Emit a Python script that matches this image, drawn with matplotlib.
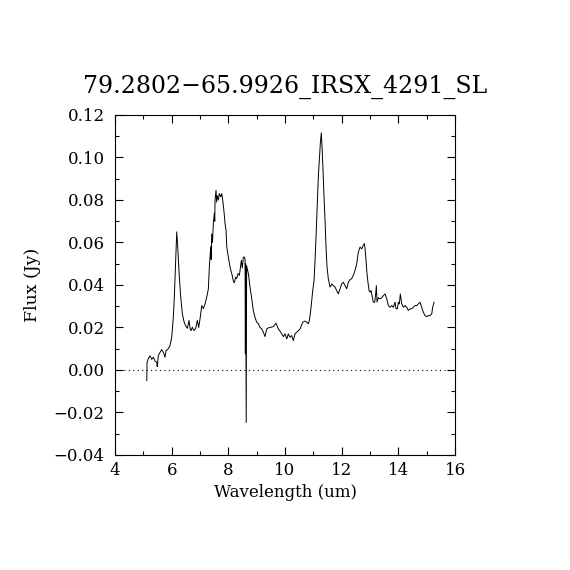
import matplotlib
matplotlib.use("Agg")
import matplotlib.pyplot as plt
from matplotlib.ticker import MultipleLocator

# spectrum (wavelength in um, flux in Jy)
wave = [5.12, 5.13, 5.175, 5.235, 5.295, 5.352, 5.412, 5.472, 5.49, 5.528,
        5.588, 5.648, 5.705, 5.765, 5.80, 5.881, 5.941, 6.001, 6.058, 6.093,
        6.128, 6.178, 6.213, 6.269, 6.319, 6.375, 6.435, 6.495, 6.552, 6.612,
        6.647, 6.682, 6.728, 6.788, 6.848, 6.905, 6.954, 7.00, 7.06, 7.116,
        7.176, 7.236, 7.293, 7.328, 7.378, 7.395, 7.41, 7.44, 7.47, 7.505,
        7.52, 7.53, 7.565, 7.585, 7.61, 7.646, 7.68, 7.73, 7.766, 7.80,
        7.847, 7.882, 7.918, 7.943, 7.999, 8.059, 8.119, 8.175, 8.21, 8.26,
        8.295, 8.341, 8.387, 8.412, 8.458, 8.493, 8.528, 8.564, 8.589, 8.60,
        8.61, 8.63, 8.645, 8.705, 8.765, 8.825, 8.88, 8.94, 9.00, 9.058,
        9.118, 9.178, 9.234, 9.294, 9.354, 9.41, 9.47, 9.587, 9.682, 9.764,
        9.848, 9.94, 10.0, 10.06, 10.116, 10.176, 10.236, 10.293, 10.353, 10.413,
        10.47, 10.53, 10.625, 10.706, 10.766, 10.822, 10.858, 10.907, 10.943, 10.978,
        11.024, 11.059, 11.094, 11.14, 11.175, 11.211, 11.246, 11.281, 11.306, 11.341,
        11.376, 11.412, 11.447, 11.482, 11.528, 11.588, 11.648, 11.705, 11.765, 11.825,
        11.881, 11.941, 12.0, 12.057, 12.117, 12.177, 12.234, 12.294, 12.354, 12.41,
        12.47, 12.53, 12.587, 12.647, 12.707, 12.763, 12.80, 12.824, 12.86, 12.884,
        12.92, 12.965, 13.0, 13.035, 13.07, 13.117, 13.166, 13.20, 13.223, 13.247,
        13.293, 13.353, 13.413, 13.47, 13.53, 13.59, 13.646, 13.706, 13.766, 13.823,
        13.882, 13.918, 13.964, 14.0, 14.035, 14.07, 14.12, 14.176, 14.235, 14.296,
        14.352, 14.412, 14.472, 14.528, 14.588, 14.648, 14.705, 14.765, 14.825, 14.88,
        14.94, 15.0, 15.058, 15.118, 15.178, 15.21, 15.26]
flux = [-0.005, 0.0036, 0.0053, 0.0067, 0.005, 0.006, 0.0042, 0.0036, 0.0016, 0.0067,
        0.0083, 0.0096, 0.0083, 0.006, 0.009, 0.010, 0.0115, 0.0154, 0.0248, 0.0343,
        0.0469, 0.065, 0.058, 0.0437, 0.0343, 0.0266, 0.0227, 0.0207, 0.0196, 0.0233,
        0.0196, 0.0185, 0.0201, 0.0185, 0.0196, 0.0233, 0.020, 0.024, 0.0303, 0.0289,
        0.031, 0.0343, 0.038, 0.0484, 0.058, 0.052, 0.064, 0.060, 0.069, 0.0738,
        0.070, 0.080, 0.0846, 0.079, 0.082, 0.080, 0.083, 0.0815, 0.083, 0.080,
        0.0744, 0.069, 0.0657, 0.058, 0.0531, 0.0484, 0.0454, 0.042, 0.041, 0.0437,
        0.043, 0.0454, 0.0445, 0.0468, 0.0516, 0.048, 0.0531, 0.0531, 0.052, 0.0076,
        0.050, -0.0247, 0.049, 0.0454, 0.039, 0.0336, 0.028, 0.0248, 0.0225, 0.0218,
        0.020, 0.0193, 0.0178, 0.0157, 0.0193, 0.0198, 0.020, 0.0204, 0.022, 0.0193,
        0.0178, 0.0157, 0.017, 0.0146, 0.017, 0.0154, 0.0162, 0.0138, 0.017, 0.0178,
        0.0185, 0.0193, 0.0225, 0.023, 0.0225, 0.0217, 0.0233, 0.028, 0.0327, 0.0374,
        0.042, 0.0516, 0.0626, 0.0783, 0.0909, 0.0988, 0.1066, 0.1116, 0.105, 0.094,
        0.0814, 0.0704, 0.0578, 0.0484, 0.0429, 0.039, 0.0405, 0.0397, 0.039, 0.0374,
        0.0358, 0.0382, 0.0405, 0.0413, 0.0397, 0.0382, 0.0413, 0.0425, 0.043, 0.0445,
        0.0468, 0.050, 0.0555, 0.0578, 0.057, 0.0587, 0.0595, 0.057, 0.0516, 0.0468,
        0.042, 0.0374, 0.0366, 0.0374, 0.0351, 0.0319, 0.0319, 0.0358, 0.0397, 0.032,
        0.034, 0.0335, 0.034, 0.035, 0.0358, 0.0335, 0.0303, 0.0295, 0.0303, 0.0295,
        0.0319, 0.0288, 0.0288, 0.0319, 0.0311, 0.0358, 0.0311, 0.0295, 0.0303, 0.0295,
        0.028, 0.0288, 0.0288, 0.0295, 0.0303, 0.0303, 0.0311, 0.0319, 0.0295, 0.0272,
        0.0256, 0.0251, 0.0256, 0.0256, 0.0264, 0.0295, 0.0319]

plt.rcParams['font.family'] = ['DejaVu Serif']

fig = plt.figure(figsize=(5.7, 5.7), dpi=100)
ax = fig.add_axes([0.2018, 0.2018, 0.5965, 0.5965])

ax.plot(wave, flux, c='black', lw=0.7)
ax.axhline(0, c='black', lw=0.8, linestyle=(0, (1, 3)))

ax.set_xlim(4, 16)
ax.set_ylim(-0.04, 0.12)
ax.xaxis.set_major_locator(MultipleLocator(2))
ax.xaxis.set_minor_locator(MultipleLocator(1))
ax.yaxis.set_major_locator(MultipleLocator(0.02))
ax.yaxis.set_minor_locator(MultipleLocator(0.01))
ax.yaxis.set_major_formatter(plt.FuncFormatter(lambda v, p: ('%.2f' % v).replace('-', '\u2212')))
ax.tick_params(which='both', direction='in', top=True, right=True, labelsize=12)
ax.tick_params(which='major', length=6, width=0.8)
ax.tick_params(which='minor', length=3, width=0.8)
ax.tick_params(axis='y', which='major', pad=7.5)
ax.tick_params(axis='x', which='major', pad=5)
for s in ax.spines.values():
    s.set_linewidth(0.8)

ax.set_xlabel("Wavelength (um)", fontsize=12)
ax.set_ylabel("Flux (Jy)", fontsize=12.5, labelpad=9)
ax.set_title("79.2802\u221265.9926_IRSX_4291_SL", fontsize=17, pad=16)

fig.savefig("out.png", dpi=100)
